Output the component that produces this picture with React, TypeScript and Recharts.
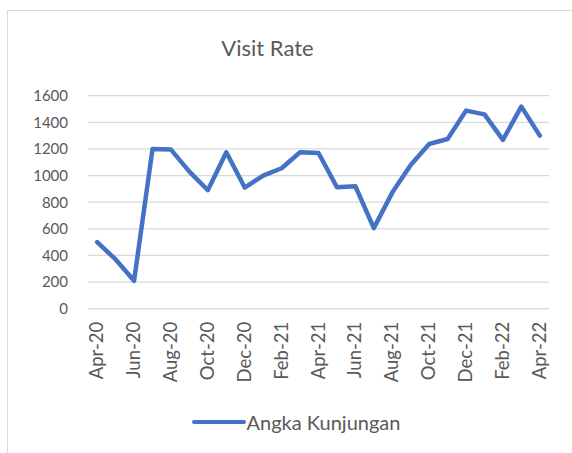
import React from "react";
import { LineChart, Line, XAxis, YAxis, CartesianGrid, Legend } from "recharts";

const months = [
  "Apr-20", "May-20", "Jun-20", "Jul-20", "Aug-20", "Sep-20", "Oct-20", "Nov-20", "Dec-20",
  "Jan-21", "Feb-21", "Mar-21", "Apr-21", "May-21", "Jun-21", "Jul-21", "Aug-21", "Sep-21",
  "Oct-21", "Nov-21", "Dec-21", "Jan-22", "Feb-22", "Mar-22", "Apr-22",
];
const visits = [
  500, 370, 210, 1200, 1195, 1030, 890, 1175, 910,
  1000, 1055, 1175, 1170, 912, 920, 605, 872, 1080,
  1237, 1275, 1488, 1460, 1268, 1518, 1300,
];
const yTicks = [0, 200, 400, 600, 800, 1000, 1200, 1400, 1600];

const data = months.map((m, i) => ({ month: m, visits: visits[i] }));

const FONT = "Lato, 'Open Sans', sans-serif";
const TEXT = "#595959";
const BLUE = "#4472C4";

const MonthTick = (props: any) => {
  const { x, y, payload } = props;
  return (
    <text
      x={0}
      y={0}
      transform={`translate(${x + 6},${y}) rotate(-90)`}
      textAnchor="end"
      fill={TEXT}
      fontSize={18.5}
      fontFamily={FONT}
    >
      {payload.value}
    </text>
  );
};

const LegendBox = () => (
  <div style={{ height: 24, display: "flex", alignItems: "center", justifyContent: "center", fontFamily: FONT, paddingLeft: 43 }}>
    <span style={{ display: "inline-block", width: 54, height: 4.5, borderRadius: 2, background: BLUE }} />
    <span style={{ color: TEXT, fontSize: 20, marginLeft: 1 }}>Angka Kunjungan</span>
  </div>
);

export default function App() {
  return (
    <div style={{ position: "absolute", left: 0, top: 0, width: 572, height: 453, overflow: "hidden", background: "#fff" }}>
      <div
        style={{
          position: "absolute", left: 7, top: 10, width: 600, height: 500,
          borderLeft: "1.5px solid #d9d9d9", borderTop: "1.5px solid #d9d9d9",
        }}
      />
      <div
        style={{
          position: "absolute", left: 0, width: 535, top: 34, textAlign: "center",
          fontFamily: FONT, fontSize: 22, color: TEXT,
        }}
      >
        Visit Rate
      </div>
      <div style={{ position: "absolute", left: 0, top: 0 }}>
        <LineChart width={572} height={453} data={data} margin={{ top: 95.7, right: 23, left: 0, bottom: 19 }}>
          <CartesianGrid vertical={false} stroke="#d9d9d9" strokeWidth={1.3} />
          <XAxis
            dataKey="month"
            interval={1}
            height={101.3}
            padding={{ left: 9.2, right: 9.2 }}
            axisLine={{ stroke: "#d9d9d9" }}
            tickLine={false}
            tickSize={0}
            tickMargin={13}
            tick={<MonthTick />}
          />
          <YAxis
            width={88}
            domain={[0, 1600]}
            ticks={yTicks}
            axisLine={false}
            tickLine={false}
            tickSize={0}
            tickMargin={20}
            tick={{ fill: TEXT, fontSize: 15, fontFamily: FONT }}
          />
          <Legend verticalAlign="bottom" content={<LegendBox />} />
          <Line
            type="linear"
            dataKey="visits"
            name="Angka Kunjungan"
            stroke={BLUE}
            strokeWidth={4.5}
            strokeLinejoin="round"
            strokeLinecap="round"
            dot={false}
            activeDot={false}
            isAnimationActive={false}
          />
        </LineChart>
      </div>
    </div>
  );
}
